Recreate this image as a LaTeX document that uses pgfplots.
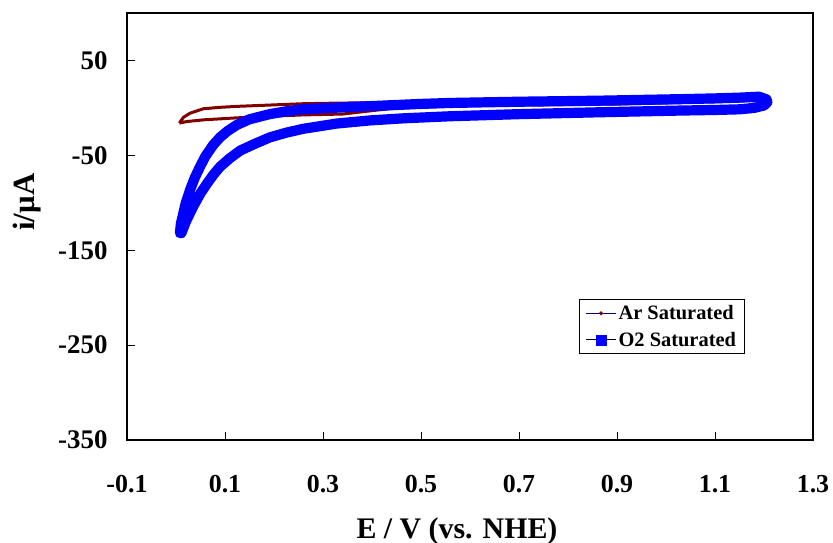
\documentclass[border=0pt]{standalone}
\usepackage{fontspec}
\setmainfont{Liberation Serif}
\usepackage{pgfplots}
\pgfplotsset{compat=1.18}
\definecolor{ArRed}{RGB}{128,0,0}
\definecolor{ArNavy}{RGB}{0,0,128}
\definecolor{OBlue}{RGB}{0,0,255}

\begin{document}
\begin{tikzpicture}
\useasboundingbox (-127bp,-103bp) rectangle (706bp,440bp);
\begin{axis}[
  at={(0,0)},anchor=south west,
  scale only axis,width=686bp,height=427bp,
  xmin=-0.1,xmax=1.3,ymin=-350,ymax=100,
  xtick={-0.1,0.1,0.3,0.5,0.7,0.9,1.1,1.3},
  xticklabels={-0.1,0.1,0.3,0.5,0.7,0.9,1.1,1.3},
  ytick={-350,-250,-150,-50,50},
  yticklabels={-350,-250,-150,-50,50},
  tick pos=left,tick align=inside,
  major tick length=8bp,
  major tick style={line width=0.8bp,black},
  axis line style={line width=2.8bp,black},
  xticklabel style={font=\fontsize{26}{26}\selectfont\bfseries,anchor=center,yshift=-44bp},
  yticklabel style={font=\fontsize{27}{27}\selectfont\bfseries,anchor=east,xshift=-16bp},
  xlabel={E / V (vs. NHE)},
  ylabel={i/μA},
  xlabel style={font=\fontsize{30}{30}\selectfont\bfseries,at={(axis description cs:0.481,-0.213)},anchor=center},
  ylabel style={font=\fontsize{31}{31}\selectfont\bfseries,at={(axis description cs:-0.146,0.557)},anchor=center},
  legend style={at={(0.900,0.330)},anchor=north east,draw=black,line width=0.8bp,
    font=\fontsize{20.5}{24}\selectfont\bfseries,inner xsep=6bp,inner ysep=4bp,row sep=7bp},
  legend cell align=left,
  clip=false]

% Ar saturated
\addplot[ArRed,line width=3bp,line join=round,forget plot] coordinates {
(0.007,-16) (0.015,-10) (0.029,-5.5) (0.056,-0.9) (0.09,0.6) (0.124,1.6)
(0.192,3.0) (0.26,4.4) (0.3,4.8) (0.4,5.5) (0.6,7) (0.9,9) (1.1,10.5) (1.19,11)
(1.2,9.5) (1.19,8) (1.1,6.5) (0.9,4) (0.6,2.5) (0.45,0) (0.39,-3.5) (0.34,-6.5)
(0.26,-7.4) (0.192,-8.8) (0.124,-10.5) (0.056,-12.6) (0.022,-14.4) (0.007,-16)};

% O2 saturated
\addplot[OBlue,line width=10.2bp,line join=round,line cap=round,forget plot] coordinates {
(1.207,6) (1.205,9) (1.19,11.8) (1.15,10.8) (1.1,10) (1.03,9.2) (0.865,7.6)
(0.7,6.5) (0.56,5.2) (0.5,4.2) (0.43,2.6) (0.36,1) (0.3,-0.4) (0.26,-1.4)
(0.226,-3.5) (0.192,-6.5) (0.15,-12) (0.124,-18) (0.105,-24.5) (0.09,-31)
(0.076,-39) (0.06,-51) (0.049,-62) (0.038,-74) (0.029,-86) (0.02,-100)
(0.015,-111) (0.01,-122) (0.008,-132)
(0.011,-132) (0.02,-120) (0.035,-104) (0.05,-90) (0.063,-80) (0.077,-70)
(0.09,-62) (0.11,-53) (0.131,-45) (0.158,-38.5) (0.192,-31) (0.226,-26)
(0.26,-22) (0.328,-16.5) (0.396,-13.2) (0.464,-11) (0.56,-8.8) (0.7,-6.6)
(0.865,-4.6) (1.03,-2.8) (1.1,-2.2) (1.15,-1.5) (1.18,0) (1.2,2.5) (1.207,6)};

\addlegendimage{legend image code/.code={
  \draw[ArNavy,line width=1bp] (0bp,0bp) -- (30bp,0bp);
  \fill[ArRed] (15bp,0bp) circle (1.6bp);}}
\addlegendentry{Ar Saturated}
\addlegendimage{legend image code/.code={
  \draw[black,line width=1bp] (0bp,0bp) -- (30bp,0bp);
  \fill[OBlue] (10bp,-5bp) rectangle (20bp,5bp);}}
\addlegendentry{O2 Saturated}
\end{axis}
\end{tikzpicture}
\end{document}
